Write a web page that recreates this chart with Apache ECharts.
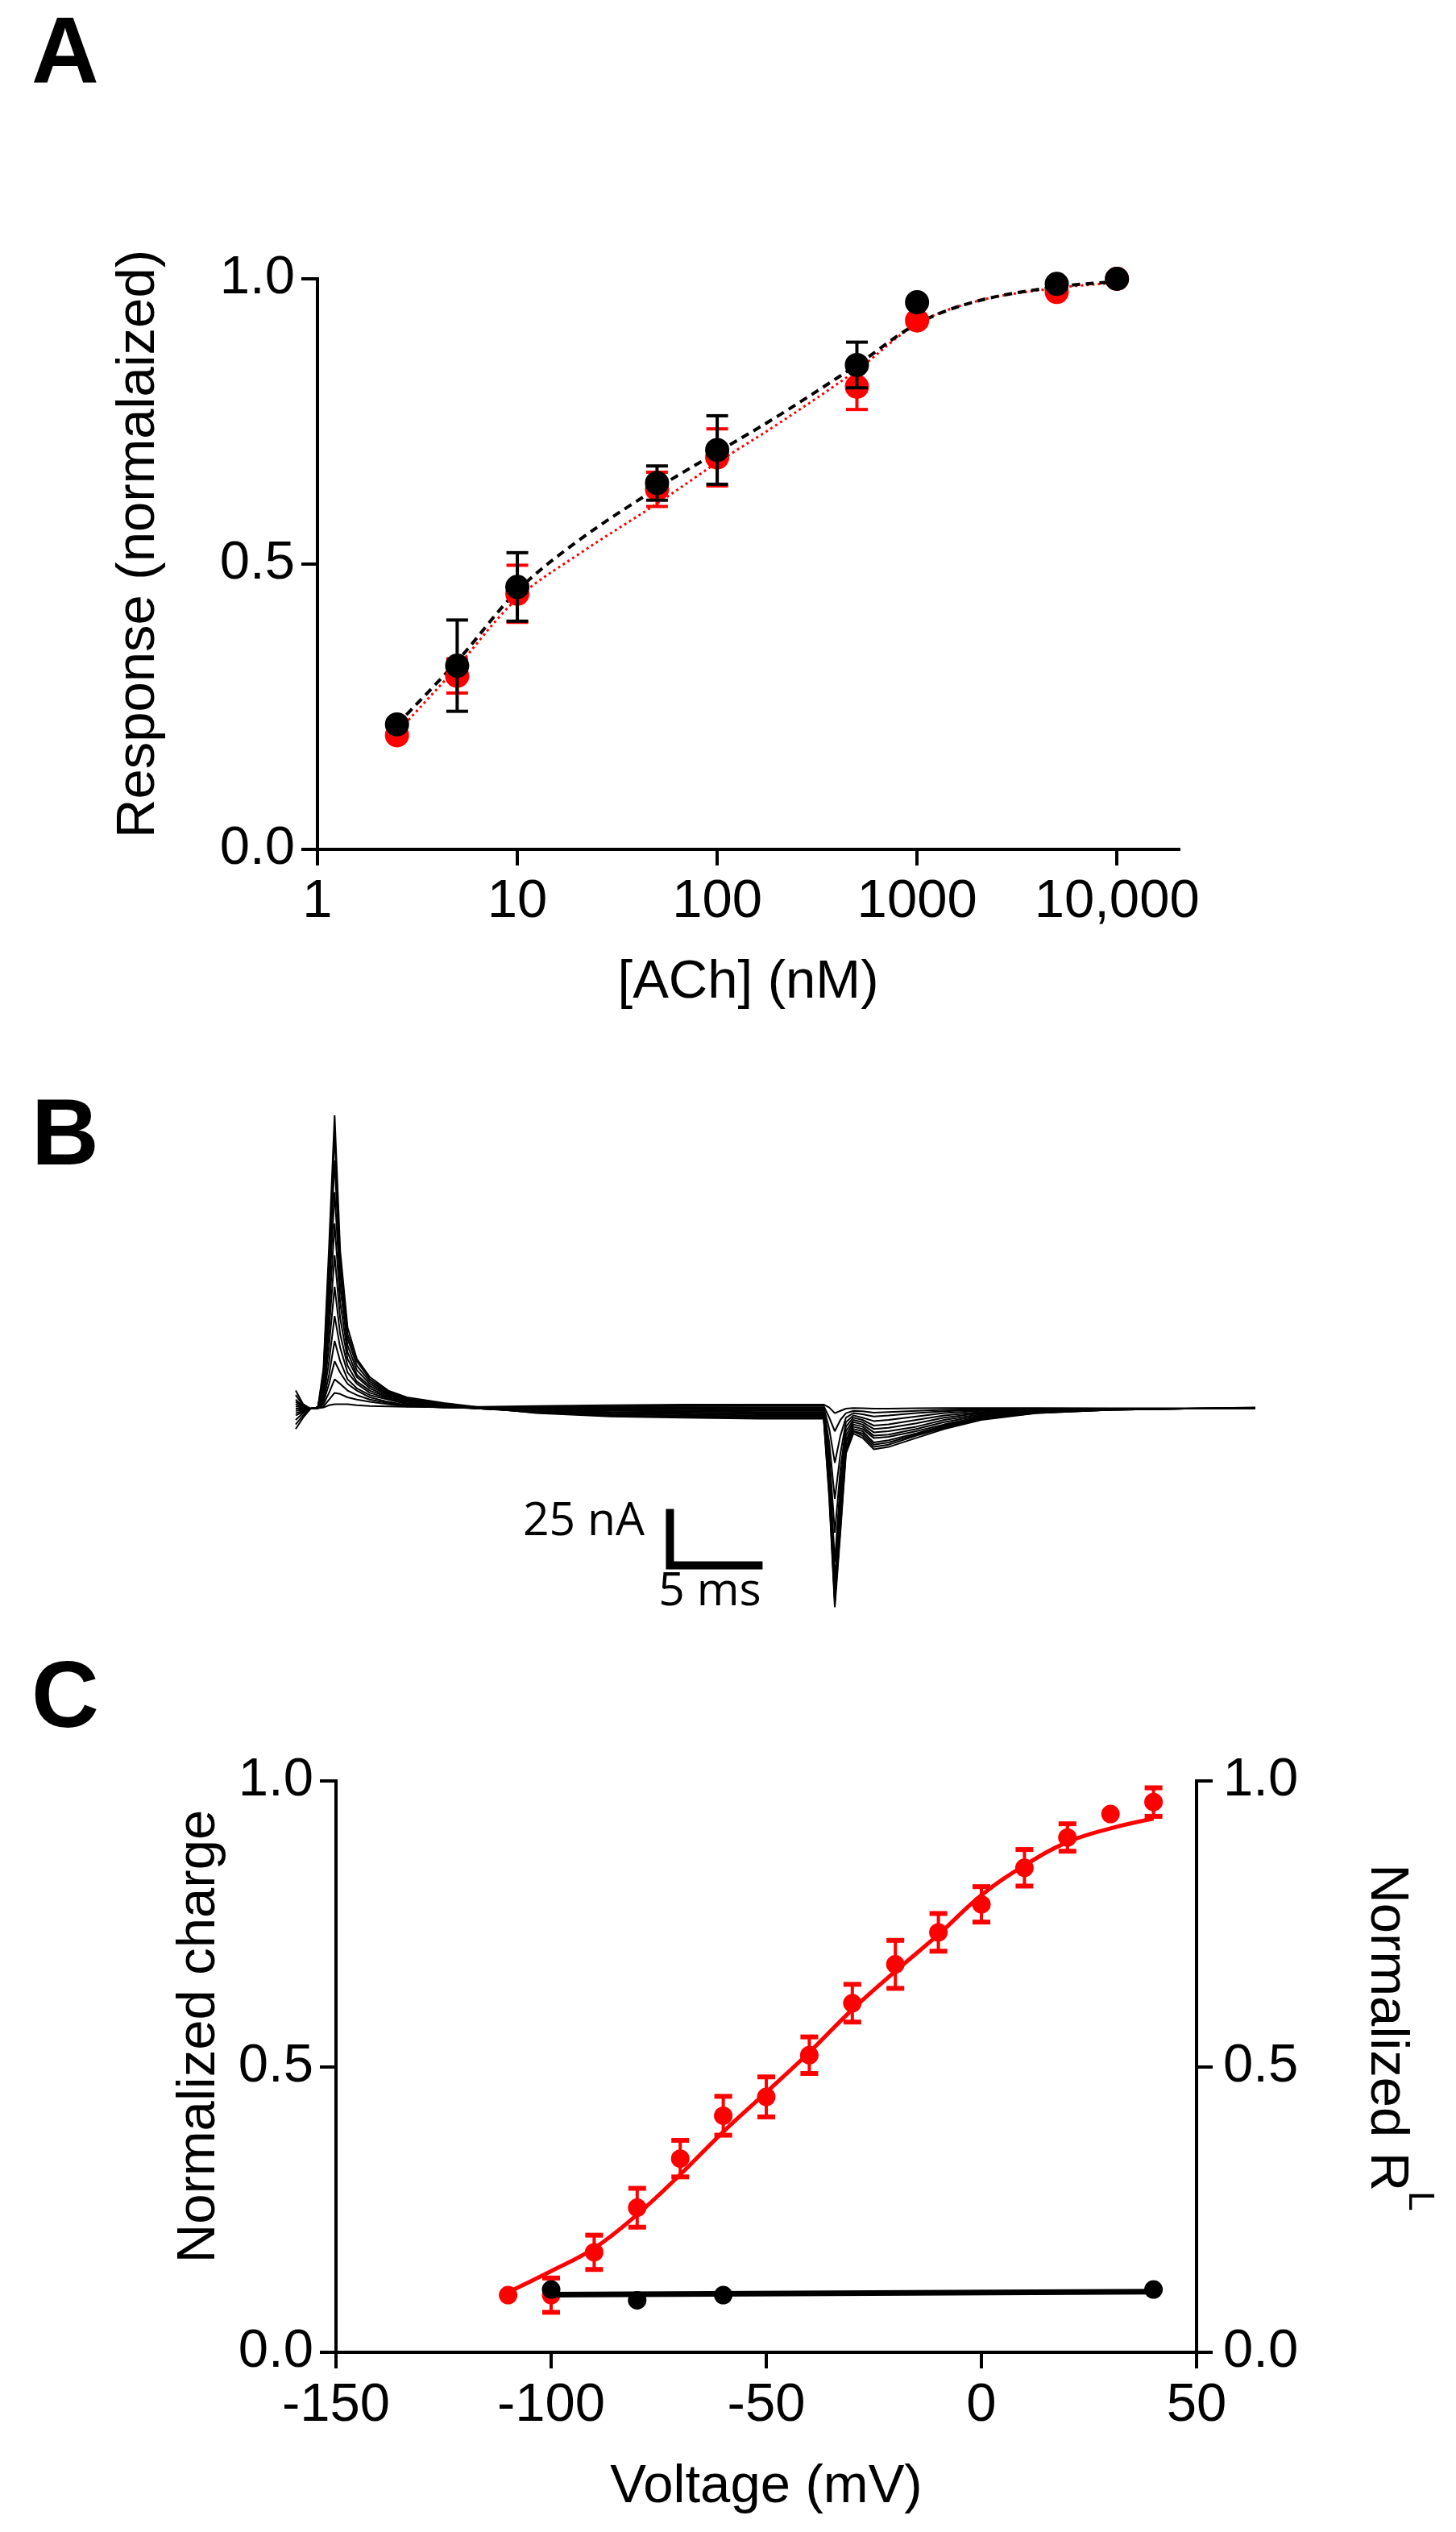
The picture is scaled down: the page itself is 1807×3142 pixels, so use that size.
<!DOCTYPE html>
<html>
<head>
<meta charset="utf-8">
<script src="https://cdn.jsdelivr.net/npm/echarts@6/dist/echarts.min.js"></script>
<style>
html, body { margin: 0; padding: 0; background: #ffffff; }
#chart { width: 1807px; height: 3142px; }
</style>
</head>
<body>
<div id="chart"></div>
<script>
// ---------------- Panel A: concentration-response ----------------
const achConc = [2.5, 5, 10, 50, 100, 500, 1000, 5000, 10000];
const blackResp = [0.219, 0.322, 0.46, 0.642, 0.70, 0.849, 0.959, 0.991, 1.0];
const blackErr = [0, 0.08, 0.06, 0.03, 0.06, 0.04, 0, 0, 0];
const redResp = [0.20, 0.304, 0.448, 0.631, 0.687, 0.811, 0.927, 0.977, 1.0];
const redErr = [0, 0.03, 0.05, 0.03, 0.05, 0.04, 0, 0, 0];
const fitConc = [2.5, 5, 10, 20, 50, 100, 200, 500, 1000, 2000, 5000, 10000];
const blackFit = [0.219, 0.33, 0.453, 0.54, 0.633, 0.696, 0.759, 0.849, 0.921, 0.961, 0.986, 0.995];
const redFit = [0.205, 0.32, 0.44, 0.516, 0.606, 0.678, 0.745, 0.84, 0.921, 0.961, 0.984, 0.993];
const achTicks = [1, 10, 100, 1000, 10000];

// ---------------- Panel B: current traces (ms, nA) ----------------
const traceTime = [0, 0.4, 0.8, 1.2, 1.5, 1.8, 2.1, 2.4, 2.8, 3.3, 4, 5, 6, 8, 10, 13, 17, 21, 25, 28.5, 28.8, 29.1, 29.4, 29.7, 30.1, 30.6, 31.2, 32, 33.5, 35, 37, 40, 44, 48, 51.8];
const trace1 = [8, 2, 0, 0.5, 18, 72, 130, 70, 36, 22, 14, 8, 5, 2.5, 0.5, -2, -3.5, -4, -4.5, -4.5, -40, -88, -55, -20, -11, -13, -18, -17, -13, -9, -5, -2, -0.5, 0, 0.5];
const trace2 = [6, 1.5, 0, 0.5, 16, 66, 122, 65, 33, 21, 13, 7.5, 4.5, 2, 0.3, -1.8, -3, -3.5, -4, -4, -38, -86, -53, -19, -10, -12, -17, -16, -12, -8.5, -4.5, -2, -0.5, 0, 0];
const trace3 = [4, 1, 0, 0.5, 14, 58, 110, 60, 31, 19, 12, 7, 4, 1.8, 0, -1.5, -2.5, -3, -3.5, -3.5, -36, -85, -50, -18, -10, -11, -16, -15, -11.5, -8, -4.5, -1.8, -0.5, 0, 0.3];
const trace4 = [3, 1, 0, 0.5, 12, 50, 96, 54, 28, 17, 11, 6.5, 4, 1.5, 0, -1.2, -2, -2.5, -3, -3, -34, -84, -48, -17, -9, -10, -15, -14, -11, -7.5, -4, -1.5, -0.5, 0, 0];
const trace5 = [2, 0.5, 0, 0.5, 10, 42, 82, 47, 25, 15, 10, 6, 3.5, 1.5, 0, -1, -1.8, -2, -2.5, -2.5, -32, -82, -45, -15, -8, -9, -13, -12.5, -10, -7, -3.5, -1.2, -0.3, 0, 0.3];
const trace6 = [1, 0.5, 0, 0.5, 8, 35, 68, 40, 22, 14, 9, 5.5, 3.5, 1.5, 0, -0.8, -1.5, -1.8, -2, -2, -30, -80, -42, -14, -7, -8, -12, -11.5, -9, -6, -3, -1, -0.3, 0, 0];
const trace7 = [0, 0, 0, 0.5, 6, 28, 54, 33, 19, 12, 8, 5, 3, 1.2, 0, -0.5, -1, -1.2, -1.5, -1.5, -27, -76, -38, -12, -6, -7, -10.5, -10, -8, -5, -2.5, -0.8, 0, 0, 0.3];
const trace8 = [-1, -0.5, 0, 0.5, 5, 21, 41, 27, 16, 11, 7, 4.5, 2.5, 1, 0, -0.3, -0.6, -0.8, -1, -1, -24, -68, -33, -10, -5, -6, -9, -8.5, -6.5, -4, -2, -0.5, 0, 0, 0];
const trace9 = [-2, -1, 0, 0.3, 4, 15, 30, 21, 13, 9, 6, 4, 2, 0.8, 0, 0, -0.2, -0.3, -0.5, -0.5, -20, -55, -27, -8, -4, -5, -7.5, -7, -5, -3, -1.5, -0.3, 0, 0, 0.2];
const trace10 = [-3, -1.5, 0, 0.3, 3, 11, 21, 16, 11, 8, 5, 3, 1.5, 0.5, 0.2, 0.2, 0.2, 0.2, 0, 0, -15, -40, -20, -6, -3, -4, -5.5, -5, -3.5, -2, -1, -0.2, 0, 0, 0];
const trace11 = [-5, -2, 0, 0.3, 2, 7, 13, 11, 8, 6, 4, 2.5, 1.2, 0.5, 0.3, 0.5, 0.6, 0.6, 0.5, 0.5, -9, -24, -12, -4, -2, -2.5, -3.5, -3, -2, -1.2, -0.5, 0, 0, 0, 0];
const trace12 = [-7, -3, 0, 0.2, 1, 4, 7, 6.5, 5, 4, 3, 2, 1, 0.5, 0.5, 0.8, 1, 1.2, 1.2, 1.2, -4, -10, -5, -2, -1, -1.2, -1.8, -1.5, -1, -0.5, -0.2, 0, 0, 0, 0];
const trace13 = [-9, -4, 0, 0.2, 0.5, 1.5, 2, 2, 2, 1.5, 1.2, 1, 0.8, 0.8, 0.8, 1.2, 1.5, 1.8, 1.8, 1.8, 0.5, -2, -1, 0, 0.3, 0.2, 0, 0, 0.2, 0.3, 0.3, 0.3, 0.2, 0.2, 0.2];
const traces = [trace1, trace2, trace3, trace4, trace5, trace6, trace7, trace8, trace9, trace10, trace11, trace12, trace13];
const scaleBarTime = [20.2, 20.2, 25.2];
const scaleBarCurrent = [-44.5, -69.5, -69.5];

// ---------------- Panel C: charge-voltage ----------------
const voltage = [-110, -100, -90, -80, -70, -60, -50, -40, -30, -20, -10, 0, 10, 20, 30, 40];
const chargeMean = [0.10, 0.10, 0.175, 0.253, 0.339, 0.414, 0.447, 0.52, 0.611, 0.679, 0.735, 0.784, 0.848, 0.901, 0.942, 0.963];
const chargeErr = [0, 0.03, 0.03, 0.034, 0.032, 0.034, 0.035, 0.032, 0.033, 0.042, 0.033, 0.031, 0.032, 0.024, 0, 0.025];
const chargeFit = [0.105, 0.142, 0.182, 0.241, 0.311, 0.386, 0.455, 0.525, 0.600, 0.667, 0.731, 0.800, 0.852, 0.893, 0.917, 0.934];
const rlVoltage = [-100, -80, -60, 40];
const rlMean = [0.110, 0.091, 0.100, 0.110];
const rlFitVoltage = [-100, 40];
const rlFit = [0.101, 0.106];

// ---------------- helpers ----------------
const FONT = '"Liberation Sans", Arial, sans-serif';
const RED = '#ff0000';
const BLACK = '#000000';

function pairs(xs, ys) { return xs.map((x, i) => [x, ys[i]]); }
function errData(xs, ys, es) {
  const out = [];
  xs.forEach((x, i) => { if (es[i] > 0) out.push([x, ys[i] - es[i], ys[i] + es[i]]); });
  return out;
}
function errRenderer(color, capW, stemW, capLW) {
  return function (params, api) {
    const x = api.value(0), lo = api.value(1), hi = api.value(2);
    const pHi = api.coord([x, hi]);
    const pLo = api.coord([x, lo]);
    const hw = capW / 2;
    return {
      type: 'group',
      children: [
        { type: 'line', shape: { x1: pHi[0], y1: pHi[1], x2: pLo[0], y2: pLo[1] }, style: { stroke: color, lineWidth: stemW } },
        { type: 'line', shape: { x1: pHi[0] - hw, y1: pHi[1], x2: pHi[0] + hw, y2: pHi[1] }, style: { stroke: color, lineWidth: capLW } },
        { type: 'line', shape: { x1: pLo[0] - hw, y1: pLo[1], x2: pLo[0] + hw, y2: pLo[1] }, style: { stroke: color, lineWidth: capLW } }
      ]
    };
  };
}
const axisLineStyle = { show: true, onZero: false, lineStyle: { color: BLACK, width: 4, cap: 'square' } };
const axisTickStyle = { show: true, inside: false, length: 20, lineStyle: { color: BLACK, width: 4 } };
const labelBase = { color: BLACK, fontSize: 67, fontFamily: FONT };
const nameBase = { color: BLACK, fontSize: 67, fontFamily: FONT };

const traceSeries = traces.map((tr) => ({
  type: 'line', xAxisIndex: 1, yAxisIndex: 1,
  data: pairs(traceTime, tr),
  showSymbol: false, symbol: 'none', smooth: false,
  lineStyle: { color: BLACK, width: 2, opacity: 1 },
  z: 2, silent: true
}));

const option = {
  animation: false,
  backgroundColor: '#ffffff',
  grid: [
    { left: 394, top: 346, width: 1069, height: 708, outerBoundsMode: 'none', containLabel: false },
    { left: 367, top: 1356, width: 1191, height: 672, outerBoundsMode: 'none', containLabel: false },
    { left: 417, top: 2210, width: 1068, height: 709, outerBoundsMode: 'none', containLabel: false }
  ],
  xAxis: [
    {
      gridIndex: 0, type: 'log', logBase: 10, min: 1, max: 20400,
      axisLine: axisLineStyle,
      axisTick: Object.assign({}, axisTickStyle, { customValues: achTicks }),
      axisLabel: Object.assign({}, labelBase, {
        margin: 32, customValues: achTicks,
        formatter: v => (v >= 10000 ? Number(v).toLocaleString('en-US') : String(Math.round(v)))
      }),
      splitLine: { show: false }, minorTick: { show: false },
      name: '[ACh] (nM)', nameLocation: 'middle', nameGap: 132, nameMoveOverlap: false,
      nameTextStyle: nameBase
    },
    {
      gridIndex: 1, type: 'value', min: 0, max: 51.8, show: false
    },
    {
      gridIndex: 2, type: 'value', min: -150, max: 50, interval: 50,
      axisLine: axisLineStyle, axisTick: axisTickStyle,
      axisLabel: Object.assign({}, labelBase, { margin: 33 }),
      splitLine: { show: false },
      name: 'Voltage (mV)', nameLocation: 'middle', nameGap: 134, nameMoveOverlap: false,
      nameTextStyle: nameBase
    }
  ],
  yAxis: [
    {
      gridIndex: 0, type: 'value', min: 0, max: 1, interval: 0.5,
      axisLine: axisLineStyle, axisTick: axisTickStyle,
      axisLabel: Object.assign({}, labelBase, { margin: 28, formatter: v => v.toFixed(1) }),
      splitLine: { show: false },
      name: 'Response (normalaized)', nameLocation: 'middle', nameGap: 188, nameMoveOverlap: false,
      nameTextStyle: Object.assign({}, nameBase, { padding: [0, 0, 0, 50] })
    },
    {
      gridIndex: 1, type: 'value', min: -100, max: 140, show: false
    },
    {
      gridIndex: 2, type: 'value', min: 0, max: 1, interval: 0.5, position: 'left',
      axisLine: axisLineStyle, axisTick: axisTickStyle,
      axisLabel: Object.assign({}, labelBase, { margin: 28, formatter: v => v.toFixed(1) }),
      splitLine: { show: false },
      name: 'Normalized charge', nameLocation: 'middle', nameGap: 136, nameMoveOverlap: false,
      nameTextStyle: Object.assign({}, nameBase, { padding: [0, 0, 0, 75] })
    },
    {
      gridIndex: 2, type: 'value', min: 0, max: 1, interval: 0.5, position: 'right',
      axisLine: axisLineStyle, axisTick: axisTickStyle,
      axisLabel: Object.assign({}, labelBase, { margin: 33, formatter: v => v.toFixed(1) }),
      splitLine: { show: false },
      name: '{n|Normalized R}{s|L}', nameLocation: 'middle', nameGap: 202, nameRotate: -90, nameMoveOverlap: false,
      nameTextStyle: {
        color: BLACK, fontFamily: FONT, fontSize: 67, padding: [0, 72, 0, 0],
        rich: {
          n: { color: BLACK, fontFamily: FONT, fontSize: 67, lineHeight: 96, verticalAlign: 'bottom' },
          s: { color: BLACK, fontFamily: FONT, fontSize: 44, lineHeight: 44, verticalAlign: 'top' }
        }
      }
    }
  ],
  series: [
    // Panel A
    { type: 'line', xAxisIndex: 0, yAxisIndex: 0, data: pairs(fitConc, redFit), showSymbol: false, symbol: 'none', smooth: 0.35,
      lineStyle: { color: RED, width: 3, type: [3, 4], opacity: 1 }, z: 2, silent: true },
    { type: 'line', xAxisIndex: 0, yAxisIndex: 0, data: pairs(fitConc, blackFit), showSymbol: false, symbol: 'none', smooth: 0.35,
      lineStyle: { color: BLACK, width: 4, type: [10, 7], opacity: 1 }, z: 3, silent: true },
    { type: 'custom', xAxisIndex: 0, yAxisIndex: 0, data: errData(achConc, redResp, redErr), encode: { x: 0, y: [1, 2] },
      renderItem: errRenderer(RED, 27, 4, 4), z: 4, silent: true },
    { type: 'scatter', xAxisIndex: 0, yAxisIndex: 0, data: pairs(achConc, redResp), symbol: 'circle', symbolSize: 30,
      itemStyle: { color: RED, opacity: 1 }, z: 5, silent: true },
    { type: 'custom', xAxisIndex: 0, yAxisIndex: 0, data: errData(achConc, blackResp, blackErr), encode: { x: 0, y: [1, 2] },
      renderItem: errRenderer(BLACK, 27, 4, 4), z: 6, silent: true },
    { type: 'scatter', xAxisIndex: 0, yAxisIndex: 0, data: pairs(achConc, blackResp), symbol: 'circle', symbolSize: 30,
      itemStyle: { color: BLACK, opacity: 1 }, z: 7, silent: true },
    // Panel B
    ...traceSeries,
    { type: 'line', xAxisIndex: 1, yAxisIndex: 1, data: pairs(scaleBarTime, scaleBarCurrent), showSymbol: false, symbol: 'none',
      lineStyle: { color: BLACK, width: 10, cap: 'butt', join: 'miter', opacity: 1 }, z: 3, silent: true },
    // Panel C
    { type: 'line', xAxisIndex: 2, yAxisIndex: 2, data: pairs(voltage, chargeFit), showSymbol: false, symbol: 'none', smooth: 0.4,
      lineStyle: { color: RED, width: 5, opacity: 1 }, z: 2, silent: true },
    { type: 'custom', xAxisIndex: 2, yAxisIndex: 2, data: errData(voltage, chargeMean, chargeErr), encode: { x: 0, y: [1, 2] },
      renderItem: errRenderer(RED, 22, 4, 6), z: 3, silent: true },
    { type: 'scatter', xAxisIndex: 2, yAxisIndex: 2, data: pairs(voltage, chargeMean), symbol: 'circle', symbolSize: 23,
      itemStyle: { color: RED, opacity: 1 }, z: 4, silent: true },
    { type: 'line', xAxisIndex: 2, yAxisIndex: 3, data: pairs(rlFitVoltage, rlFit), showSymbol: false, symbol: 'none',
      lineStyle: { color: BLACK, width: 7, opacity: 1 }, z: 5, silent: true },
    { type: 'scatter', xAxisIndex: 2, yAxisIndex: 3, data: pairs(rlVoltage, rlMean), symbol: 'circle', symbolSize: 23,
      itemStyle: { color: BLACK, opacity: 1 }, z: 6, silent: true }
  ],
  graphic: [
    { type: 'text', left: 39, top: 13, style: { text: 'A', font: 'bold 116px "Liberation Sans", Arial, sans-serif', fill: BLACK } },
    { type: 'text', left: 39, top: 1355, style: { text: 'B', font: 'bold 116px "Liberation Sans", Arial, sans-serif', fill: BLACK } },
    { type: 'text', left: 39, top: 2053, style: { text: 'C', font: 'bold 116px "Liberation Sans", Arial, sans-serif', fill: BLACK } },
    { type: 'text', x: 800, y: 1889, style: { text: '25 nA', font: '57px "Open Sans", sans-serif', fill: BLACK, align: 'right', verticalAlign: 'middle' } },
    { type: 'text', x: 881, y: 1976, style: { text: '5 ms', font: '57px "Open Sans", sans-serif', fill: BLACK, align: 'center', verticalAlign: 'middle' } }
  ]
};

const chart = echarts.init(document.getElementById('chart'), null, { renderer: 'canvas', width: 1807, height: 3142 });
chart.setOption(option);
</script>
</body>
</html>
